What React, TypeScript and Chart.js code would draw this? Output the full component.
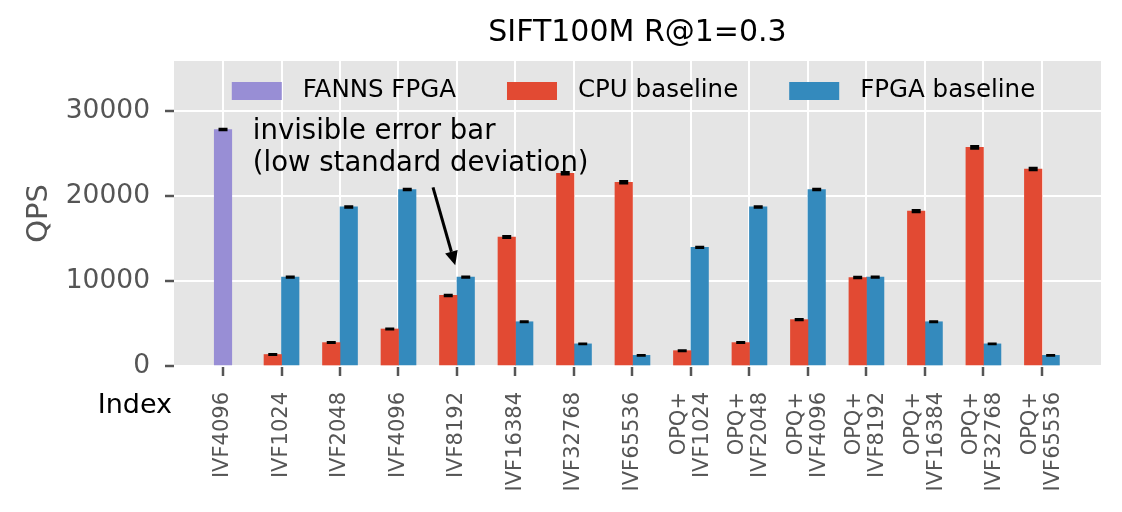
import React, { useEffect, useRef } from 'react';
import Chart from 'chart.js/auto';

const FONT = "'DejaVu Sans', sans-serif";

const categories = [
  'IVF4096',
  'IVF1024',
  'IVF2048',
  'IVF4096',
  'IVF8192',
  'IVF16384',
  'IVF32768',
  'IVF65536',
  'OPQ+\nIVF1024',
  'OPQ+\nIVF2048',
  'OPQ+\nIVF4096',
  'OPQ+\nIVF8192',
  'OPQ+\nIVF16384',
  'OPQ+\nIVF32768',
  'OPQ+\nIVF65536',
];

// QPS per index (null = no bar for that series)
const fannsQps = [27800, null, null, null, null, null, null, null, null, null, null, null, null, null, null];
const cpuQps = [null, 1350, 2750, 4350, 8300, 15150, 22650, 21600, 1800, 2750, 5450, 10400, 18200, 25700, 23150];
const fpgaQps = [null, 10450, 18700, 20750, 10450, 5200, 2600, 1250, 13950, 18700, 20750, 10450, 5200, 2600, 1250];

// standard deviations (too small to see)
const fannsStd = [60, null, null, null, null, null, null, null, null, null, null, null, null, null, null];
const cpuStd = [null, 20, 30, 40, 60, 90, 120, 110, 25, 30, 50, 70, 100, 130, 120];
const fpgaStd = [null, 40, 60, 60, 40, 30, 20, 15, 50, 60, 60, 40, 30, 20, 15];

const yTicks = [0, 10000, 20000, 30000];

const annotationLines = ['invisible error bar', '(low standard deviation)'];
const annotationText = { x: 0.51, y: 26700 };
const arrowFrom = { x: 3.59, y: 21000 };
const arrowTo = { x: 3.97, y: 11850 };

const toPoints = (vals: (number | null)[]) => vals.map((v, i) => ({ x: i, y: v }));

const backgroundPlugin = {
  id: 'ggBackground',
  beforeDraw(chart: any) {
    const { ctx, chartArea: a } = chart;
    ctx.save();
    ctx.fillStyle = '#E5E5E5';
    ctx.fillRect(a.left, a.top, a.right - a.left, a.bottom - a.top);
    ctx.restore();
  },
};

const errorBarPlugin = {
  id: 'errorBars',
  afterDatasetsDraw(chart: any) {
    const { ctx } = chart;
    const ys = chart.scales.y;
    chart.data.datasets.forEach((ds: any, di: number) => {
      const meta = chart.getDatasetMeta(di);
      meta.data.forEach((bar: any, i: number) => {
        const v = ds.data[i].y;
        if (v == null) return;
        const e = ds.errors[i] ?? 0;
        const top = ys.getPixelForValue(v + e);
        const bot = ys.getPixelForValue(v - e);
        ctx.save();
        ctx.strokeStyle = '#000';
        ctx.lineWidth = 1.5;
        ctx.beginPath();
        ctx.moveTo(bar.x, top);
        ctx.lineTo(bar.x, bot);
        ctx.stroke();
        ctx.lineWidth = 2.5;
        ctx.beginPath();
        ctx.moveTo(bar.x - 4.5, top);
        ctx.lineTo(bar.x + 4.5, top);
        ctx.moveTo(bar.x - 4.5, bot);
        ctx.lineTo(bar.x + 4.5, bot);
        ctx.stroke();
        ctx.restore();
      });
    });
  },
};

const legendPlugin = {
  id: 'insideLegend',
  afterDatasetsDraw(chart: any) {
    const { ctx, chartArea: a } = chart;
    ctx.save();
    ctx.font = `24.5px ${FONT}`;
    const items = chart.data.datasets.map((ds: any) => ({
      label: ds.label,
      color: ds.backgroundColor,
      w: 50 + 21 + ctx.measureText(ds.label).width,
    }));
    const gap = 51;
    const total = items.reduce((s: number, it: any) => s + it.w, 0) + gap * (items.length - 1);
    let x = (a.left + a.right) / 2 - total / 2 - 4;
    const yMid = a.top + 30;
    ctx.textAlign = 'left';
    ctx.textBaseline = 'middle';
    items.forEach((it: any) => {
      ctx.fillStyle = it.color;
      ctx.fillRect(x, yMid - 9, 50, 18);
      ctx.fillStyle = '#000';
      ctx.fillText(it.label, x + 71, yMid);
      x += it.w + gap;
    });
    ctx.restore();
  },
};

const annotationPlugin = {
  id: 'arrowNote',
  afterDatasetsDraw(chart: any) {
    const { ctx } = chart;
    const xs = chart.scales.x;
    const ys = chart.scales.y;
    ctx.save();
    ctx.font = `27.5px ${FONT}`;
    ctx.fillStyle = '#000';
    ctx.textAlign = 'left';
    ctx.textBaseline = 'alphabetic';
    const tx = xs.getPixelForValue(annotationText.x);
    const ty = ys.getPixelForValue(annotationText.y);
    annotationLines.forEach((line, j) => ctx.fillText(line, tx, ty + j * 32));

    const x1 = xs.getPixelForValue(arrowFrom.x);
    const y1 = ys.getPixelForValue(arrowFrom.y);
    const x2 = xs.getPixelForValue(arrowTo.x);
    const y2 = ys.getPixelForValue(arrowTo.y);
    const ang = Math.atan2(y2 - y1, x2 - x1);
    const headLen = 14;
    const headHalf = 6.5;
    const bx = x2 - headLen * Math.cos(ang);
    const by = y2 - headLen * Math.sin(ang);
    ctx.strokeStyle = '#000';
    ctx.lineWidth = 3;
    ctx.beginPath();
    ctx.moveTo(x1, y1);
    ctx.lineTo(bx, by);
    ctx.stroke();
    ctx.beginPath();
    ctx.moveTo(x2, y2);
    ctx.lineTo(bx + headHalf * Math.sin(ang), by - headHalf * Math.cos(ang));
    ctx.lineTo(bx - headHalf * Math.sin(ang), by + headHalf * Math.cos(ang));
    ctx.closePath();
    ctx.fill();
    ctx.restore();
  },
};

const xLabelPlugin = {
  id: 'xTickLabels',
  afterDraw(chart: any) {
    const { ctx, chartArea } = chart;
    const xs = chart.scales.x;
    ctx.save();
    ctx.font = `21px ${FONT}`;
    ctx.fillStyle = '#555555';
    ctx.textAlign = 'right';
    ctx.textBaseline = 'middle';
    categories.forEach((label, i) => {
      const lines = label.split('\n');
      const px = xs.getPixelForValue(i);
      ctx.save();
      ctx.translate(px, chartArea.bottom + 26);
      ctx.rotate(-Math.PI / 2);
      lines.forEach((line, j) => ctx.fillText(line, 0, (j - (lines.length - 1) / 2) * 23));
      ctx.restore();
    });
    ctx.font = `27px ${FONT}`;
    ctx.fillStyle = '#000';
    ctx.textAlign = 'right';
    ctx.textBaseline = 'alphabetic';
    ctx.fillText('Index', chartArea.left - 2, chartArea.bottom + 47);
    ctx.restore();
  },
};

const App: React.FC = () => {
  const chartRef = useRef<HTMLCanvasElement>(null);

  useEffect(() => {
    document.body.style.margin = '0';
    const ctx = chartRef.current?.getContext('2d');
    if (!ctx) return;

    Chart.defaults.font.family = FONT;

    const myChart = new Chart(ctx, {
      type: 'bar',
      data: {
        datasets: [
          { label: 'FANNS FPGA', data: toPoints(fannsQps), errors: fannsStd, backgroundColor: '#988ED5' } as any,
          { label: 'CPU baseline', data: toPoints(cpuQps), errors: cpuStd, backgroundColor: '#E24A33' } as any,
          { label: 'FPGA baseline', data: toPoints(fpgaQps), errors: fpgaStd, backgroundColor: '#348ABD' } as any,
        ],
      },
      options: {
        animation: false,
        responsive: true,
        maintainAspectRatio: false,
        skipNull: true,
        barThickness: 17.5,
        borderWidth: 0,
        layout: { padding: { left: 0, right: 21, top: 0, bottom: 0 } },
        plugins: {
          legend: { display: false },
          tooltip: { enabled: false },
          title: {
            display: true,
            text: 'SIFT100M R@1=0.3',
            color: '#000',
            fullSize: false,
            font: { size: 30, weight: 'normal' },
            padding: { top: 15, bottom: 10 },
          },
        },
        scales: {
          x: {
            type: 'linear',
            min: -0.838,
            max: 15.01,
            offset: false,
            border: { display: false },
            grid: {
              offset: false,
              color: '#FFFFFF',
              lineWidth: 2,
              drawTicks: true,
              tickLength: 10,
              tickColor: '#555555',
              tickWidth: 2.5,
            },
            ticks: { display: false },
            afterBuildTicks: (axis: any) => {
              axis.ticks = categories.map((_, i) => ({ value: i }));
            },
            afterFit: (axis: any) => {
              axis.height = 146;
            },
          },
          y: {
            min: 0,
            max: 35850,
            border: { display: false },
            grid: {
              color: '#FFFFFF',
              lineWidth: 2,
              tickLength: 9,
              tickColor: '#555555',
              tickWidth: 2.5,
            },
            ticks: {
              color: '#555555',
              font: { size: 26.5 },
              padding: 15,
              callback: (v: any) => String(v),
            },
            afterBuildTicks: (axis: any) => {
              axis.ticks = yTicks.map((v) => ({ value: v }));
            },
            afterFit: (axis: any) => {
              axis.width = 174;
            },
            title: {
              display: true,
              text: 'QPS',
              color: '#555555',
              font: { size: 29 },
              padding: { top: 22, bottom: 0 },
            },
          },
        },
      } as any,
      plugins: [backgroundPlugin, errorBarPlugin, legendPlugin, annotationPlugin, xLabelPlugin],
    });

    return () => {
      myChart.destroy();
    };
  }, []);

  return (
    <div style={{ position: 'relative', width: '1122px', height: '512px' }}>
      <canvas ref={chartRef}></canvas>
    </div>
  );
};

export default App;
